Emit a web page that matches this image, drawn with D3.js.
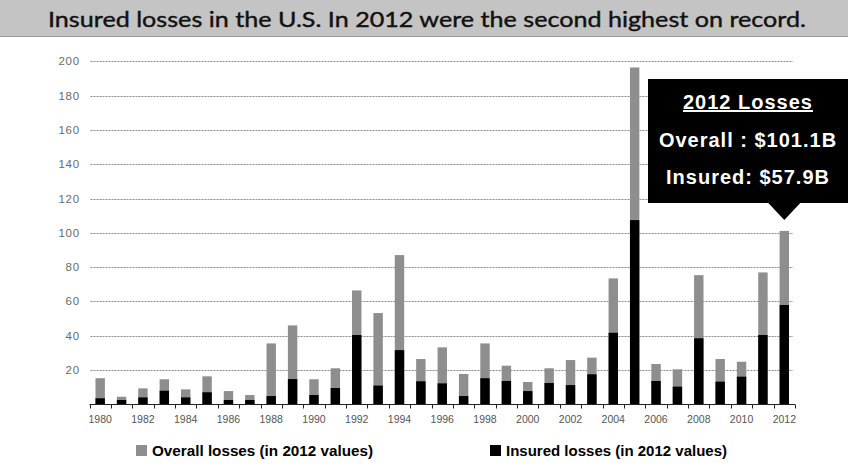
<!DOCTYPE html>
<html>
<head>
<meta charset="utf-8">
<script src="https://cdn.jsdelivr.net/npm/d3@7/dist/d3.min.js"></script>
<style>
  html, body { margin: 0; padding: 0; background: #fff; }
  svg { display: block; }
</style>
</head>
<body>
<svg id="chart" width="850" height="466"></svg>
<script>
// U.S. natural catastrophe losses 1980-2012, in US$ billions (2012 values)
const years = ["1980","1981","1982","1983","1984","1985","1986","1987","1988","1989",
               "1990","1991","1992","1993","1994","1995","1996","1997","1998","1999",
               "2000","2001","2002","2003","2004","2005","2006","2007","2008","2009",
               "2010","2011","2012"];
const overallLosses = [15.2, 4.4, 9.3, 14.6, 8.7, 16.3, 7.7, 5.4, 35.5, 46.0,
                       14.6, 21.0, 66.4, 53.2, 87.0, 26.4, 33.2, 17.7, 35.5, 22.5,
                       13.0, 21.0, 25.8, 27.2, 73.4, 196.4, 23.5, 20.4, 75.3, 26.4,
                       24.8, 76.9, 101.1];
const insuredLosses = [3.5, 2.5, 4.0, 7.9, 4.0, 7.0, 2.5, 2.5, 4.8, 14.7,
                       5.4, 9.5, 40.4, 10.9, 31.6, 13.4, 12.2, 4.8, 15.2, 13.6,
                       7.7, 12.4, 11.2, 17.5, 41.7, 107.4, 13.6, 10.3, 38.5, 13.2,
                       16.1, 40.4, 57.9];
const yTicks = [20, 40, 60, 80, 100, 120, 140, 160, 180, 200];
const yearLabels = ["1980","1982","1984","1986","1988","1990","1992","1994","1996","1998",
                    "2000","2002","2004","2006","2008","2010","2012"];
const titleText = "Insured losses in the U.S. In 2012 were the second highest on record.";
const calloutLines = ["2012 Losses", "Overall : $101.1B", "Insured: $57.9B"];
const legendItems = [
  { label: "Overall losses (in 2012 values)", key: "overall" },
  { label: "Insured losses (in 2012 values)", key: "insured" }
];

const colors = { overall: "#8e8e8e", insured: "#000000" };
const arial = "'Liberation Sans', Arial, Helvetica, sans-serif";

const svg = d3.select("#chart");

// ---- title banner ----
svg.append("rect")
  .attr("x", 0).attr("y", 0).attr("width", 848).attr("height", 36)
  .attr("fill", "#c4c4c4");
svg.append("line")
  .attr("x1", 0).attr("x2", 848).attr("y1", 36.5).attr("y2", 36.5)
  .attr("stroke", "#9a9a9a").attr("stroke-width", 1);
svg.append("text")
  .attr("x", 427).attr("y", 27)
  .attr("text-anchor", "middle")
  .attr("font-family", "Lato, 'Open Sans', sans-serif")
  .attr("font-size", 22)
  .attr("fill", "#111")
  .attr("stroke", "#111")
  .attr("stroke-width", 0.4)
  .attr("textLength", 758)
  .attr("lengthAdjust", "spacingAndGlyphs")
  .text(titleText);

// ---- scales ----
const plotLeft = 89.5, plotRight = 795;
const x = d3.scaleBand().domain(years).range([plotLeft, plotRight]).padding(0);
const y = d3.scaleLinear().domain([0, 200]).range([404.3, 61.3]);
const barW = x.bandwidth() * 0.44;

// ---- gridlines ----
svg.append("g").selectAll("line")
  .data(yTicks)
  .join("line")
  .attr("x1", plotLeft + 1).attr("x2", plotRight - 2)
  .attr("y1", d => Math.round(y(d)) + 0.5)
  .attr("y2", d => Math.round(y(d)) + 0.5)
  .attr("stroke", "#8a8a8a")
  .attr("stroke-width", 1)
  .attr("stroke-dasharray", "2,1");

// ---- y tick labels ----
svg.append("g").selectAll("text")
  .data(yTicks)
  .join("text")
  .attr("x", 80)
  .attr("y", d => y(d) + 4)
  .attr("text-anchor", "end")
  .attr("font-family", arial)
  .attr("font-size", 11.5)
  .attr("letter-spacing", 0.8)
  .attr("fill", "#6a6a6a")
  .text(d => d);

// ---- bars ----
const bars = svg.append("g");
bars.selectAll("rect.overall")
  .data(years)
  .join("rect")
  .attr("class", "overall")
  .attr("x", d => x(d) + (x.bandwidth() - barW) / 2)
  .attr("width", barW)
  .attr("y", (d, i) => y(overallLosses[i]))
  .attr("height", (d, i) => y(0) - y(overallLosses[i]))
  .attr("fill", colors.overall);
bars.selectAll("rect.insured")
  .data(years)
  .join("rect")
  .attr("class", "insured")
  .attr("x", d => x(d) + (x.bandwidth() - barW) / 2)
  .attr("width", barW)
  .attr("y", (d, i) => y(insuredLosses[i]))
  .attr("height", (d, i) => y(0) - y(insuredLosses[i]))
  .attr("fill", colors.insured);

// ---- x axis: baseline, boundary ticks, year labels ----
const base = Math.round(y(0)) + 0.5;
svg.append("line")
  .attr("x1", plotLeft).attr("x2", plotRight)
  .attr("y1", base).attr("y2", base)
  .attr("stroke", "#222").attr("stroke-width", 1.2);
const tickPos = years.map(d => x(d)).concat([plotRight]);
svg.append("g").selectAll("line")
  .data(tickPos)
  .join("line")
  .attr("x1", d => Math.round(d) + 0.5).attr("x2", d => Math.round(d) + 0.5)
  .attr("y1", base).attr("y2", base + 4)
  .attr("stroke", "#222").attr("stroke-width", 1);
svg.append("g").selectAll("text")
  .data(yearLabels)
  .join("text")
  .attr("x", d => x(d) + x.bandwidth() / 2)
  .attr("y", 423)
  .attr("text-anchor", "middle")
  .attr("font-family", arial)
  .attr("font-size", 10.5)
  .attr("fill", "#555")
  .text(d => d);

// ---- 2012 callout ----
const cx2012 = x("2012") + x.bandwidth() / 2;
const box = { x0: 648, x1: 848, y0: 79, y1: 203 };
const callout = svg.append("g");
callout.append("path")
  .attr("d", `M${box.x0},${box.y0}H${box.x1}V${box.y1}H${cx2012 + 16}L${cx2012},${box.y1 + 17}L${cx2012 - 16},${box.y1}H${box.x0}Z`)
  .attr("fill", "#000");
const boxCx = (box.x0 + box.x1) / 2;
const lineY = [109, 147, 184];
callout.selectAll("text")
  .data(calloutLines)
  .join("text")
  .attr("x", boxCx)
  .attr("y", (d, i) => lineY[i])
  .attr("text-anchor", "middle")
  .attr("font-family", arial)
  .attr("font-weight", "bold")
  .attr("font-size", 20)
  .attr("letter-spacing", 1)
  .attr("fill", "#fff")
  .attr("text-decoration", (d, i) => i === 0 ? "underline" : null)
  .text(d => d);

// ---- legend ----
const legendPos = [{ sx: 136, tx: 152, tw: 221 }, { sx: 490, tx: 506, tw: 221 }];
const legend = svg.append("g");
legendItems.forEach((item, i) => {
  const p = legendPos[i];
  legend.append("rect")
    .attr("x", p.sx).attr("y", 445)
    .attr("width", 11).attr("height", 11)
    .attr("fill", colors[item.key]);
  legend.append("text")
    .attr("x", p.tx).attr("y", 456)
    .attr("font-family", "'Liberation Sans Narrow', " + arial)
    .attr("font-weight", "bold")
    .attr("font-size", 15)
    .attr("fill", "#000")
    .attr("textLength", p.tw)
    .attr("lengthAdjust", "spacingAndGlyphs")
    .text(item.label);
});
</script>
</body>
</html>
